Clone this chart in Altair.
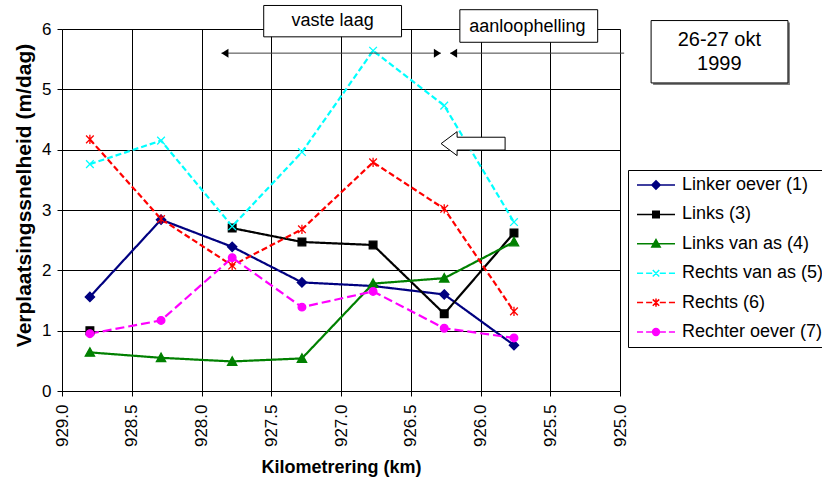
import altair as alt
import pandas as pd

# ---------------- data ----------------
km = [928.80, 928.29, 927.78, 927.28, 926.77, 926.26, 925.76]
series = ["Linker oever (1)", "Links (3)", "Links van as (4)",
          "Rechts van as (5)", "Rechts (6)", "Rechter oever (7)"]
linker_oever = [1.56, 2.84, 2.39, 1.80, 1.74, 1.60, 0.76]
links = [1.00, None, 2.70, 2.47, 2.42, 1.28, 2.62]
links_van_as = [0.64, 0.55, 0.49, 0.54, 1.78, 1.87, 2.47]
rechts_van_as = [3.76, 4.15, 2.73, 3.96, 5.64, 4.73, 2.80]
rechts = [4.17, 2.85, 2.08, 2.68, 3.79, 3.02, 1.32]
rechter_oever = [0.95, 1.17, 2.21, 1.39, 1.65, 1.04, 0.88]

x_ticks = [929.0, 928.5, 928.0, 927.5, 927.0, 926.5, 926.0, 925.5, 925.0]
y_ticks = [0, 1, 2, 3, 4, 5, 6]

# annotation boxes (data coordinates)
box_labels = ["vaste laag", "aanloophelling", "datum"]
box_km1 = [927.554, 926.148, 924.777]
box_km2 = [926.566, 925.160, 923.796]
box_v1 = [6.39, 6.32, 6.14]
box_v2 = [5.87, 5.78, 5.106]

text_labels = ["vaste laag", "aanloophelling"]
text_km = [927.06, 925.664]
text_v = [6.13, 6.04]

date_lines = ["26-27 okt", "1999"]
date_km = [924.288, 924.288]
date_v = [5.81, 5.42]

arrow_km1 = [927.857, 926.218]
arrow_km2 = [926.284, 924.97]
arrow_v = [5.60, 5.60]

head_km = [927.857, 926.284, 926.218]
head_v = [5.60, 5.60, 5.60]
head_dir = ["left", "right", "left"]

block_km = [926.053]
block_v = [4.10]

# ---------------- styles ----------------
colors = ["#000080", "#000000", "#008000", "#00FFFF", "#FF0000", "#FF00FF"]
dashes = [[1, 0], [1, 0], [1, 0], [6, 3], [6, 3], [9, 4]]
widths = [2.2, 2.2, 2.2, 1.2, 1.2, 1.2]
point_shapes = [
    "M0,-0.85L0.85,0L0,0.85L-0.85,0Z",
    "M-0.7,-0.7H0.7V0.7H-0.7Z",
    "M0,-0.85L0.85,0.7L-0.85,0.7Z",
    "M-0.7,-0.7L0.7,0.7M-0.7,0.7L0.7,-0.7",
    "M-0.7,-0.7L0.7,0.7M-0.7,0.7L0.7,-0.7M0,-0.85L0,0.85",
    "M-0.7,0A0.7,0.7,0,1,0,0.7,0A0.7,0.7,0,1,0,-0.7,0Z",
]
solid = "M-1,0H1"
dashed = "M-1,0H-0.68M-0.52,0H-0.2M0.2,0H0.52M0.68,0H1"
legend_shapes = [
    solid + "M0,-0.22L0.22,0L0,0.22L-0.22,0Z",
    solid + "M-0.17,-0.17H0.17V0.17H-0.17Z",
    solid + "M0,-0.22L0.22,0.17L-0.22,0.17Z",
    dashed + "M-0.17,-0.17L0.17,0.17M-0.17,0.17L0.17,-0.17",
    dashed + "M-0.17,-0.17L0.17,0.17M-0.17,0.17L0.17,-0.17M0,-0.22L0,0.22",
    dashed + "M-0.18,0A0.18,0.18,0,1,0,0.18,0A0.18,0.18,0,1,0,-0.18,0Z",
]

FONT = "Liberation Sans"

# ---------------- tables ----------------
rows = []
for name, vals in zip(series, [linker_oever, links, links_van_as, rechts_van_as, rechts, rechter_oever]):
    seg = 0
    for k, v in zip(km, vals):
        if v is None:
            seg += 1
            continue
        rows.append({"series": name, "legend": name, "km": k, "v": v, "seg": f"{name}-{seg}"})
df = pd.DataFrame(rows)

boxes = pd.DataFrame({"label": box_labels, "km": box_km1, "km2": box_km2, "v": box_v1, "v2": box_v2})
texts = pd.DataFrame({"label": text_labels, "km": text_km, "v": text_v})
dates = pd.DataFrame({"label": date_lines, "km": date_km, "v": date_v})
arrows = pd.DataFrame({"km": arrow_km1, "km2": arrow_km2, "v": arrow_v})
heads = pd.DataFrame({"km": head_km, "v": head_v, "dir": head_dir})
block = pd.DataFrame({"km": block_km, "v": block_v})

xscale = alt.Scale(domain=[925, 929], reverse=True, nice=False, zero=False)
yscale = alt.Scale(domain=[0, 6], nice=False, zero=False)

x_axis = alt.Axis(values=x_ticks, format=".1f", labelAngle=270, labelAlign="right",
                  labelBaseline="middle", labelFontSize=17, labelPadding=8, tickSize=5,
                  title="Kilometrering (km)", titleFontSize=18, titleFontWeight="bold",
                  titleBaseline="alphabetic", titleY=81.5, grid=True)
y_axis = alt.Axis(values=y_ticks, format="d", labelFontSize=17, labelPadding=6, tickSize=5,
                  title="Verplaatsingssnelheid (m/dag)", titleFontSize=21, titleFontWeight="bold",
                  titleAngle=270, titleAlign="center", titleBaseline="alphabetic",
                  titleX=-32, titleY=166, grid=True)

X = alt.X("km:Q", scale=xscale, axis=x_axis)
Y = alt.Y("v:Q", scale=yscale, axis=y_axis)

lines = alt.Chart(df).mark_line().encode(
    x=X, y=Y,
    detail="seg:N",
    stroke=alt.Stroke("series:N", scale=alt.Scale(domain=series, range=colors), legend=None),
    strokeDash=alt.StrokeDash("series:N", scale=alt.Scale(domain=series, range=dashes), legend=None),
    strokeWidth=alt.StrokeWidth("series:O", scale=alt.Scale(domain=series, range=widths), legend=None),
    order=alt.Order("km:Q", sort="descending"),
)

points = alt.Chart(df).mark_point(filled=True, opacity=1, size=120, strokeWidth=1.3).encode(
    x=X, y=Y,
    fill=alt.Fill("series:N", scale=alt.Scale(domain=series, range=colors), legend=None),
    stroke=alt.Stroke("series:N", scale=alt.Scale(domain=series, range=colors), legend=None),
    shape=alt.Shape("series:N", scale=alt.Scale(domain=series, range=point_shapes), legend=None),
)

leg = alt.Legend(title=None, orient="none", legendX=566, legendY=141, direction="vertical",
                 strokeColor="black", fillColor="white", padding=5, cornerRadius=0,
                 labelFont=FONT, labelFontSize=18, labelColor="black", labelOffset=6,
                 labelLimit=400, symbolSize=1444, symbolStrokeWidth=1.5, rowPadding=9.4,
                 symbolOffset=3, clipHeight=20, symbolOpacity=1)

# helper layer that only produces the legend; its marks sit far below the plot and are clipped
legend_layer = alt.Chart(df).transform_calculate(v_hidden="-50").mark_point(
    filled=True, size=1444, clip=True, opacity=1).encode(
    x=X,
    y=alt.Y("v_hidden:Q", scale=yscale, axis=y_axis),
    fill=alt.Fill("legend:N", scale=alt.Scale(domain=series, range=colors), legend=leg),
    stroke=alt.Stroke("legend:N", scale=alt.Scale(domain=series, range=colors), legend=leg),
    shape=alt.Shape("legend:N", scale=alt.Scale(domain=series, range=legend_shapes), legend=leg),
)

box_shadow = alt.Chart(boxes).transform_filter(alt.datum.label == "datum").mark_rect(
    fill="#808080", xOffset=2, yOffset=2, x2Offset=2, y2Offset=2).encode(
    x=X, x2="km2:Q", y=Y, y2="v2:Q")
box_rects = alt.Chart(boxes).mark_rect(fill="white", stroke="black", strokeWidth=1).encode(
    x=X, x2="km2:Q", y=Y, y2="v2:Q")

box_texts = alt.Chart(texts).mark_text(font=FONT, fontSize=18, align="center", baseline="middle",
                                       color="black").encode(x=X, y=Y, text="label:N")
date_texts = alt.Chart(dates).mark_text(font=FONT, fontSize=20, align="center", baseline="middle",
                                        color="black").encode(x=X, y=Y, text="label:N")

arrow_lines = alt.Chart(arrows).mark_rule(color="#404040", strokeWidth=1).encode(
    x=X, x2="km2:Q", y=Y)

heads_left = alt.Chart(heads).transform_filter(alt.datum.dir == "left").mark_point(
    shape="M0,0L1.56,-1L1.56,1Z", size=81, filled=True, fill="black", opacity=1).encode(x=X, y=Y)
heads_right = alt.Chart(heads).transform_filter(alt.datum.dir == "right").mark_point(
    shape="M0,0L-1.56,-1L-1.56,1Z", size=81, filled=True, fill="black", opacity=1).encode(x=X, y=Y)

block_arrow = alt.Chart(block).mark_point(
    shape="M-1,0L-0.5,-0.375L-0.5,-0.2L1,-0.2L1,0.2L-0.5,0.2L-0.5,0.375Z",
    size=4096, filled=True, fill="white", stroke="black", strokeWidth=1, opacity=1).encode(x=X, y=Y)

chart = alt.layer(
    lines, points, legend_layer,
    arrow_lines, heads_left, heads_right, block_arrow,
    box_shadow, box_rects, box_texts, date_texts,
).resolve_scale(
    stroke="independent", fill="independent", shape="independent"
).properties(
    width=558, height=362,
    autosize=alt.AutoSizeParams(type="none"),
    padding={"left": 62, "top": 29, "right": 202, "bottom": 90},
).configure(
    font=FONT, background="white"
).configure_view(
    stroke=None
).configure_axis(
    labelFont=FONT, titleFont=FONT, labelColor="black", titleColor="black",
    domainColor="black", tickColor="black", gridColor="#000000", gridWidth=1,
    domainWidth=1, tickWidth=1, gridOpacity=1
)

chart.save("out.html", embed_options={"renderer": "svg", "actions": False})
